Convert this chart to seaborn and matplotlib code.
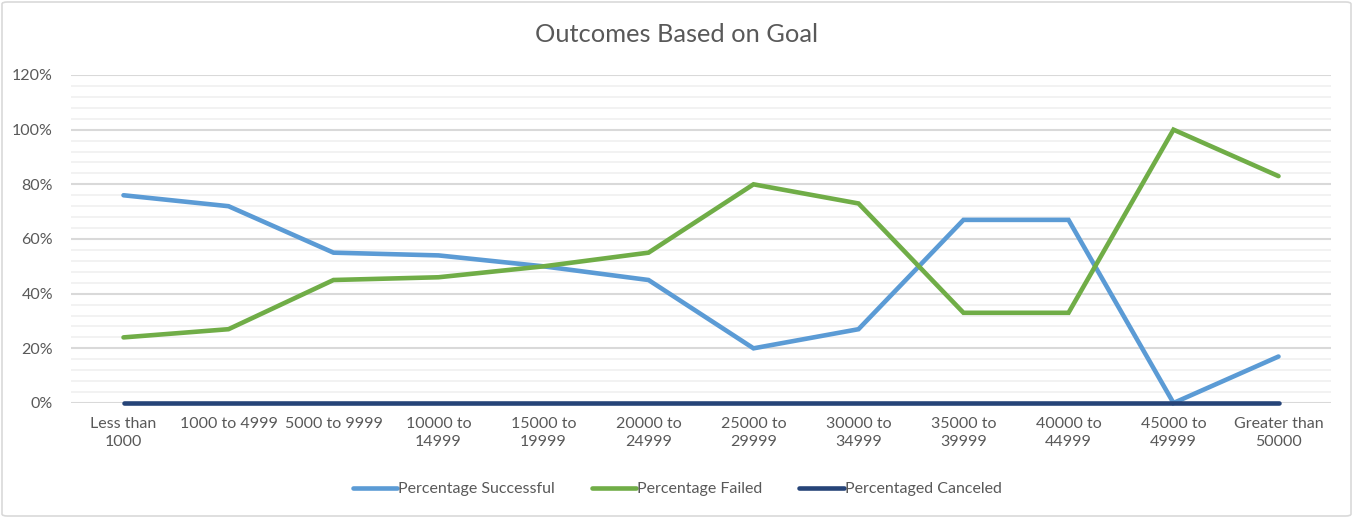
import numpy as np
import pandas as pd
import seaborn as sns
import matplotlib.pyplot as plt
from matplotlib.patches import FancyBboxPatch
from matplotlib.ticker import MultipleLocator, PercentFormatter

# Data
goal_ranges = ['Less than\n1000', '1000 to 4999', '5000 to 9999', '10000 to\n14999',
               '15000 to\n19999', '20000 to\n24999', '25000 to\n29999', '30000 to\n34999',
               '35000 to\n39999', '40000 to\n44999', '45000 to\n49999', 'Greater than\n50000']
pct_successful = [0.76, 0.72, 0.55, 0.54, 0.50, 0.45, 0.20, 0.27, 0.67, 0.67, 0.00, 0.17]
pct_failed = [0.24, 0.27, 0.45, 0.46, 0.50, 0.55, 0.80, 0.73, 0.33, 0.33, 1.00, 0.83]
pct_canceled = [0.0] * 12

series_names = ['Percentage Successful', 'Percentage Failed', 'Percentaged Canceled']
series_colors = ['#5B9BD5', '#70AD47', '#264478']

df = pd.DataFrame({
    'goal': goal_ranges * 3,
    'pos': list(range(len(goal_ranges))) * 3,
    'pct': pct_successful + pct_failed + pct_canceled,
    'outcome': [s for s in series_names for _ in goal_ranges],
})

sns.set_style('white')
plt.rcParams['font.family'] = ['Lato', 'DejaVu Sans']
text_color = '#595959'

fig = plt.figure(figsize=(13.54, 5.18), dpi=100)
ax = fig.add_axes([71 / 1354, 1 - 403 / 518, 1260 / 1354, 328 / 518])

# lines at 0% would be half clipped by the axes, so drawing them unclipped
sns.lineplot(data=df, x='pos', y='pct', hue='outcome', hue_order=series_names,
             palette=series_colors, linewidth=3.3, sort=False, ax=ax, legend=False,
             solid_capstyle='round', solid_joinstyle='miter', zorder=3, clip_on=False)

ax.set_xlim(-0.5, len(goal_ranges) - 0.5)
ax.set_ylim(0, 1.2)
ax.yaxis.set_major_locator(MultipleLocator(0.2))
ax.yaxis.set_minor_locator(MultipleLocator(0.04))
ax.yaxis.set_major_formatter(PercentFormatter(1.0, decimals=0))
ax.set_xticks(range(len(goal_ranges)))
ax.set_xticklabels(goal_ranges, linespacing=1.35)
ax.grid(which='major', axis='y', color='#D9D9D9', linewidth=1.5, zorder=0)
ax.grid(which='minor', axis='y', color='#F2F2F2', linewidth=1.4, zorder=0)
ax.set_axisbelow(True)
ax.tick_params(axis='both', which='both', length=0, colors=text_color, labelsize=11.5)
ax.tick_params(axis='y', pad=13)
ax.tick_params(axis='x', pad=10)
for spine in ax.spines.values():
    spine.set_visible(False)
ax.set_xlabel('')
ax.set_ylabel('')

fig.text(0.5, 1 - 35 / 518, 'Outcomes Based on Goal', ha='center', va='center',
         fontsize=18.3, color=text_color)

handles = [plt.Line2D([], [], color=c, lw=3.3, solid_capstyle='round') for c in series_colors]
fig.legend(handles, series_names, loc='center', bbox_to_anchor=(0.5, 1 - 489 / 518),
           ncol=3, frameon=False, fontsize=11.5, labelcolor=text_color,
           handlelength=2.8, handletextpad=0.05, columnspacing=2.3)

border = FancyBboxPatch((2 / 1354, 2 / 518), 1349 / 1354, 514 / 518,
                        boxstyle='round,pad=0,rounding_size=0.004',
                        transform=fig.transFigure, facecolor='none',
                        edgecolor='#D9D9D9', linewidth=1.2)
fig.patches.append(border)

fig.savefig('out.png', dpi=100)
